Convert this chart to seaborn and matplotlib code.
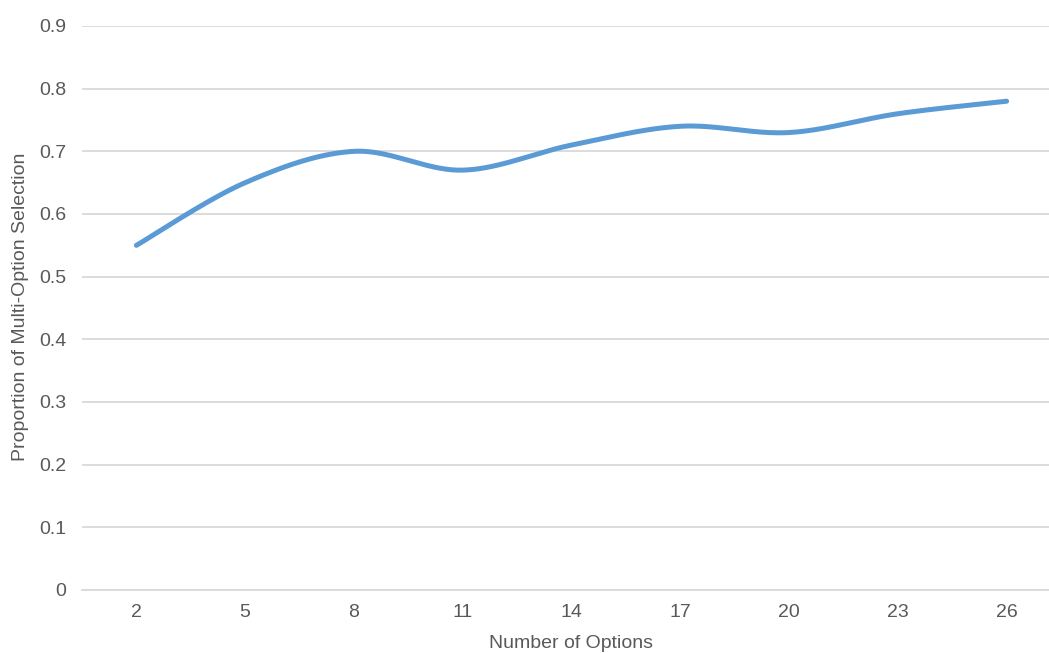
import numpy as np
import pandas as pd
import matplotlib
matplotlib.use("Agg")
import matplotlib.pyplot as plt
import seaborn as sns

# Data
categories = ["2", "5", "8", "11", "14", "17", "20", "23", "26"]
proportions = [0.55, 0.65, 0.70, 0.67, 0.71, 0.74, 0.73, 0.76, 0.78]
y_ticks = [0, 0.1, 0.2, 0.3, 0.4, 0.5, 0.6, 0.7, 0.8, 0.9]

sns.set_theme(style="white")
plt.rcParams['font.family'] = ['Liberation Sans', 'DejaVu Sans']

fig = plt.figure(figsize=(10.49, 6.53), dpi=100)
ax = fig.add_axes([82/1049, 63/653, 979/1049, 564/653])

# Excel-style smoothed line (Catmull-Rom Bezier through the data points)
xs = np.arange(len(categories), dtype=float)
ys = np.array(proportions, dtype=float)
px = np.concatenate([[xs[0]], xs, [xs[-1]]])
py = np.concatenate([[ys[0]], ys, [ys[-1]]])
cx, cy = [], []
t = np.linspace(0, 1, 40)
for i in range(len(xs) - 1):
    p0 = np.array([px[i], py[i]])
    p1 = np.array([px[i+1], py[i+1]])
    p2 = np.array([px[i+2], py[i+2]])
    p3 = np.array([px[i+3], py[i+3]])
    c1 = p1 + (p2 - p0) / 6
    c2 = p2 - (p3 - p1) / 6
    b = ((1-t)**3)[:, None]*p1 + (3*(1-t)**2*t)[:, None]*c1 + (3*(1-t)*t**2)[:, None]*c2 + (t**3)[:, None]*p2
    cx.extend(b[:, 0]); cy.extend(b[:, 1])
curve = pd.DataFrame({"x": cx, "y": cy})

sns.lineplot(data=curve, x="x", y="y", sort=False, ax=ax, color="#5B9BD5",
             linewidth=3.6, solid_capstyle="round", solid_joinstyle="round")

ax.set_xlim(-0.5, len(categories) - 0.5)
ax.set_ylim(0, 0.9)
ax.set_xticks(xs)
ax.set_xticklabels(categories)
ax.set_yticks(y_ticks)
ax.set_yticklabels([f"{v:g}" for v in y_ticks])
ax.grid(axis="y", color="#D9D9D9", linewidth=1.3)
ax.grid(axis="x", visible=False)
for s in ["top", "right", "left"]:
    ax.spines[s].set_visible(False)
ax.spines["bottom"].set_color("#D9D9D9")
ax.spines["bottom"].set_linewidth(1.3)
ax.tick_params(axis="both", length=0, labelsize=14, colors="#595959")
ax.tick_params(axis="y", pad=11.5)
ax.tick_params(axis="x", pad=10)

ax.set_xlabel("Number of Options", fontsize=14, color="#595959")
ax.set_ylabel("Proportion of Multi-Option Selection", fontsize=14, color="#595959")
ax.xaxis.set_label_coords((571 - 82) / 979, -(635 - 590) / 564)
ax.yaxis.set_label_coords(-(82 - 29) / 979, (590 - 307) / 564)

fig.savefig("out.png", dpi=100)
